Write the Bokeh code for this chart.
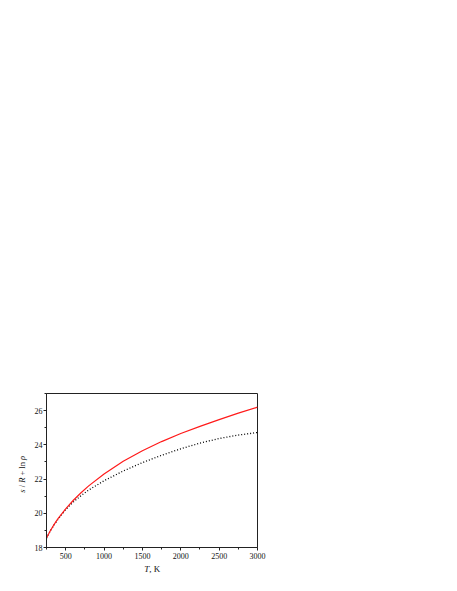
import math
from bokeh.plotting import figure
from bokeh.models import FixedTicker, Range1d, Label
from bokeh.embed import file_html
from bokeh.resources import INLINE

# Data
T = [250, 300, 350, 400, 500, 600, 700, 800, 1000, 1250, 1500, 1750, 2000, 2250, 2500, 2750, 3000]
s_red = [18.55, 18.98, 19.35, 19.69, 20.26, 20.76, 21.2, 21.6, 22.3, 23.04, 23.65, 24.19, 24.66, 25.08, 25.47, 25.85, 26.2]
s_dot = [18.55, 18.97, 19.33, 19.65, 20.22, 20.66, 21.03, 21.36, 21.9, 22.47, 22.96, 23.39, 23.77, 24.1, 24.37, 24.57, 24.72]

x_ticks = [500, 1000, 1500, 2000, 2500, 3000]
x_minor = [250, 750, 1250, 1750, 2250, 2750]
y_ticks = [18, 20, 22, 24, 26]
y_minor = [19, 21, 23, 25, 27]

FONT = "Liberation Serif"

p = figure(frame_width=211, frame_height=154, min_border_left=46, min_border_top=393,
           min_border_right=90, min_border_bottom=35,
           x_range=Range1d(250, 3000), y_range=Range1d(18, 27),
           output_backend="svg", toolbar_location=None,
           background_fill_color="white", border_fill_color="white")

p.xgrid.visible = False
p.ygrid.visible = False
p.outline_line_color = "#222222"
p.outline_line_width = 1

p.xaxis.ticker = FixedTicker(ticks=x_ticks, minor_ticks=x_minor)
p.yaxis.ticker = FixedTicker(ticks=y_ticks, minor_ticks=y_minor)
for ax in (p.xaxis, p.yaxis):
    ax.axis_line_color = "#222222"
    ax.major_tick_line_color = "#222222"
    ax.minor_tick_line_color = "#222222"
    ax.major_tick_in = 0
    ax.major_tick_out = 3
    ax.minor_tick_in = 0
    ax.minor_tick_out = 2
    ax.major_label_text_font = FONT
    ax.major_label_text_font_size = "8px"
    ax.major_label_text_color = "#111111"
p.xaxis.major_label_standoff = 2
p.yaxis.major_label_standoff = 1

p.line(T, s_dot, line_color="black", line_width=1.3, line_dash="1 2")
p.line(T, s_red, line_color="#ff1a1a", line_width=1.2)

# Axis titles: Labels kept in unused side panels (so they are not clipped to the frame),
# positioned through the data scales plus pixel offsets.
lbl_kw = dict(text_font=FONT, text_font_size="9px", text_color="#111111", text_baseline="middle")
p.add_layout(Label(x=1590, y=18, y_offset=-21, text="T", text_align="right",
                   text_font_style="italic", **lbl_kw), "above")
p.add_layout(Label(x=1590, y=18, y_offset=-21, text=", K", text_align="left", **lbl_kw), "above")

yc = 22.28
ylbl_kw = dict(text_font=FONT, text_font_size="8.5px", text_color="#111111",
               text_baseline="middle", text_align="left", angle=math.pi / 2)
segs = [("s", "italic", -18.5), ("/", "normal", -13.1), ("R", "italic", -8.6),
        ("+ ln", "normal", -1.3), ("ρ", "italic", 14.35)]
for txt, style, off in segs:
    p.add_layout(Label(x=250, y=yc, x_offset=-25, y_offset=off, text=txt,
                       text_font_style=style, **ylbl_kw), "right")

open("out.html", "w").write(file_html(p, INLINE))
